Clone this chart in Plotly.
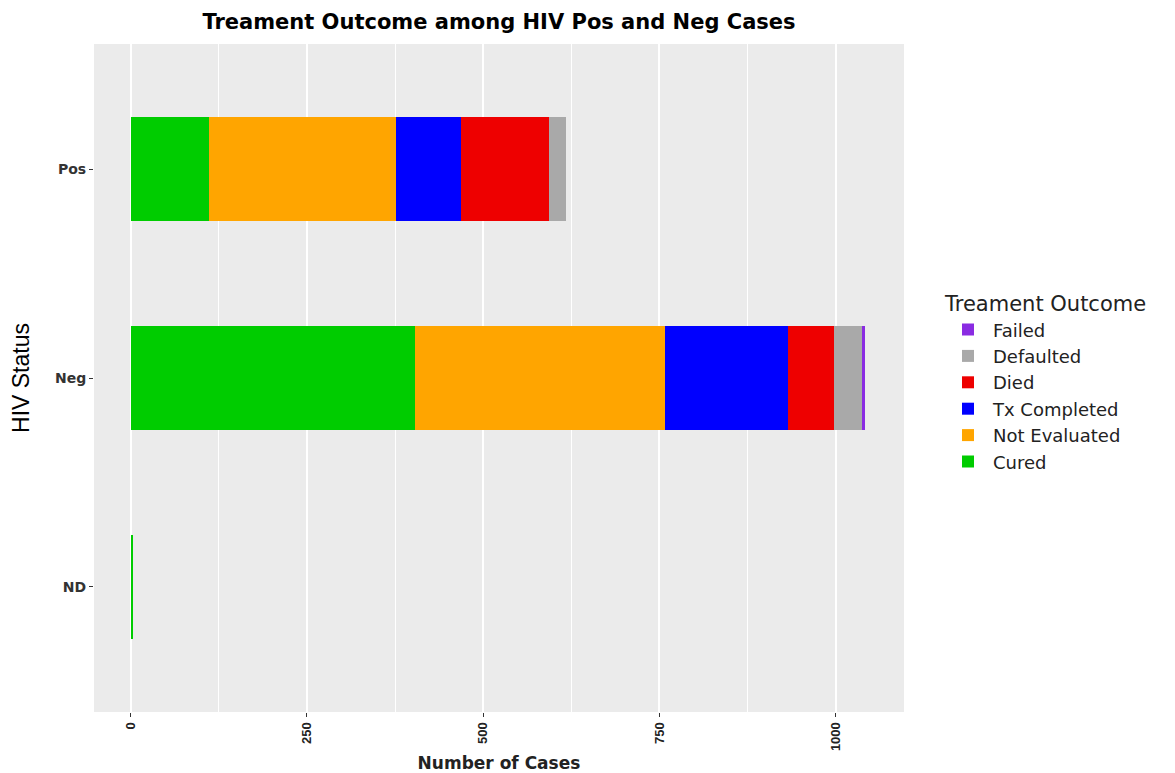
import plotly.graph_objects as go

status = ["Pos", "Neg", "ND"]
outcomes = ["Cured", "Not Evaluated", "Tx Completed", "Died", "Defaulted", "Failed"]
cured = [111, 403, 4]
not_evaluated = [266, 355, 0]
tx_completed = [92, 175, 0]
died = [124, 64, 0]
defaulted = [25, 41, 0]
failed = [0, 3, 0]
colors = ["#00CC00", "#FFA500", "#0000FF", "#EE0000", "#A9A9A9", "#8A2BE2"]
x_ticks = [0, 250, 500, 750, 1000]

series = [cured, not_evaluated, tx_completed, died, defaulted, failed]

W, H = 1167, 765  # page body has an 8px margin

fig = go.Figure()
for name, vals, col in zip(outcomes, series, colors):
    fig.add_trace(go.Bar(
        y=status, x=vals, name=name, orientation="h",
        marker=dict(color=col, line=dict(width=0)),
        width=0.5,
    ))

fig.update_layout(
    barmode="stack",
    width=W, height=H,
    paper_bgcolor="white",
    plot_bgcolor="#EBEBEB",
    margin=dict(l=86, r=271, t=36, b=61),
    title=dict(
        text="<b>Treament Outcome among HIV Pos and Neg Cases</b>",
        x=491 / W, xanchor="center",
        y=1 - 14 / H, yanchor="middle",
        font=dict(family="DejaVu Sans", size=21, color="black"),
    ),
    legend=dict(
        title=dict(text="Treament Outcome",
                   font=dict(family="DejaVu Sans", size=21, color="#222")),
        traceorder="reversed",
        xref="container", yref="container",
        x=935 / W, xanchor="left",
        y=1 - 276 / H, yanchor="top",
        font=dict(family="DejaVu Sans", size=18, color="#222"),
        bgcolor="rgba(0,0,0,0)",
        tracegroupgap=0,
        itemwidth=40,
    ),
    showlegend=True,
)

fig.update_xaxes(
    range=[-52, 1097],
    tickvals=x_ticks,
    ticktext=["<b>%s</b>" % v for v in x_ticks],
    tickangle=-90,
    tickfont=dict(family="Liberation Sans", size=13, color="#222"),
    ticks="outside", ticklen=4, tickcolor="#333",
    showgrid=True, gridcolor="white", gridwidth=1.8,
    minor=dict(dtick=125, tick0=125, showgrid=True, gridcolor="white", gridwidth=0.9),
    zeroline=False,
    showline=False,
    automargin=False,
    title=dict(text="<b>Number of Cases</b>",
               font=dict(family="DejaVu Sans", size=17, color="#222"),
               standoff=8),
)
fig.update_yaxes(
    categoryorder="array", categoryarray=["ND", "Neg", "Pos"],
    range=[-0.6, 2.6],
    tickvals=status,
    ticktext=["<b>%s</b>" % s for s in status],
    tickfont=dict(family="DejaVu Sans", size=14, color="#333"),
    ticks="outside", ticklen=4, tickcolor="#333",
    showgrid=False,
    zeroline=False,
    automargin=False,
    title=dict(text="HIV Status",
               font=dict(family="Liberation Sans Narrow, Liberation Sans", size=23, color="black"),
               standoff=18),
)

fig.write_html("out.html")
